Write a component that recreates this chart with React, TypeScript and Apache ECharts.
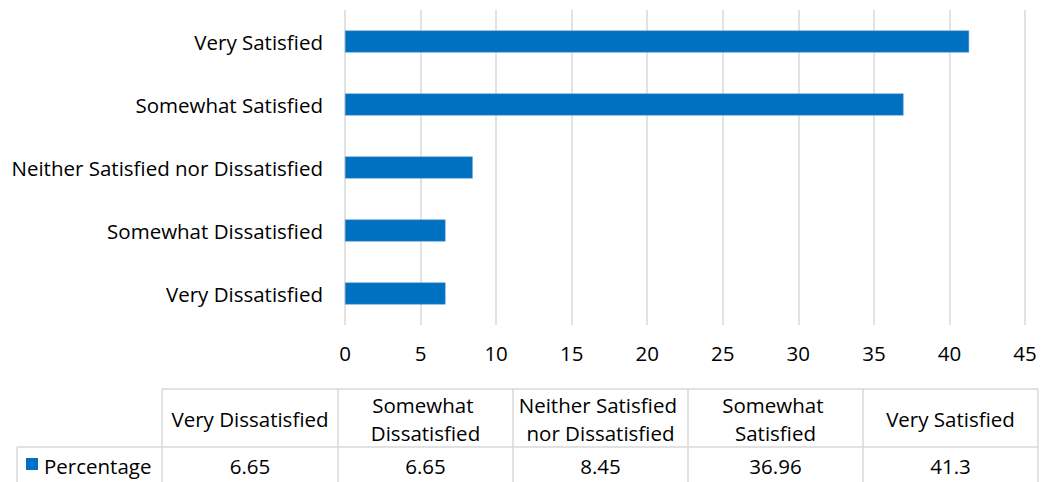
import React, { useEffect, useRef } from "react";
import * as echarts from "echarts";

// Survey responses, listed from the bottom bar upward
const categories = [
  "Very Dissatisfied",
  "Somewhat Dissatisfied",
  "Neither Satisfied nor Dissatisfied",
  "Somewhat Satisfied",
  "Very Satisfied",
];
const percentage = [6.65, 6.65, 8.45, 36.96, 41.3];
const seriesName = "Percentage";
const xTicks = { min: 0, max: 45, interval: 5 };

const BLUE = "#0070C0";
const GRID = "#D9D9D9";
const FONT = "'Open Sans', 'Noto Sans', sans-serif";
const FS = 20.5;

function buildTable(): any[] {
  const colX = [162, 338, 513, 688, 863, 1038];
  const top = 389;
  const mid = 447;
  const bottom = 482;
  const legendLeft = 17;
  const line = (x1: number, y1: number, x2: number, y2: number) => ({
    type: "line",
    shape: { x1, y1, x2, y2 },
    style: { stroke: GRID, lineWidth: 1.5 },
    silent: true,
  });
  const els: any[] = [];
  els.push(line(colX[0], top, colX[colX.length - 1], top));
  els.push(line(legendLeft, mid, colX[colX.length - 1], mid));
  els.push(line(legendLeft, mid, legendLeft, bottom));
  colX.forEach((x) => els.push(line(x, top, x, bottom)));
  categories.forEach((c, i) => {
    const cx = (colX[i] + colX[i + 1]) / 2;
    els.push({
      type: "text",
      silent: true,
      style: {
        text: c,
        x: cx,
        y: (top + mid) / 2 + 1,
        width: 170,
        overflow: "break",
        align: "center",
        verticalAlign: "middle",
        lineHeight: 28,
        fontFamily: FONT,
        fontSize: FS,
        fill: "#000",
      },
    });
    els.push({
      type: "text",
      silent: true,
      style: {
        text: String(percentage[i]),
        x: cx,
        y: (mid + bottom) / 2 + 1,
        align: "center",
        verticalAlign: "middle",
        fontFamily: FONT,
        fontSize: FS,
        fill: "#000",
      },
    });
  });
  // legend key for the data row
  els.push({
    type: "rect",
    silent: true,
    shape: { x: 26, y: 458, width: 12, height: 12 },
    style: { fill: BLUE },
  });
  els.push({
    type: "text",
    silent: true,
    style: {
      text: seriesName,
      x: 44,
      y: (mid + bottom) / 2 + 1,
      align: "left",
      verticalAlign: "middle",
      fontFamily: FONT,
      fontSize: FS,
      fill: "#000",
    },
  });
  return els;
}

export default function App() {
  const ref = useRef<HTMLDivElement>(null);
  useEffect(() => {
    if (!ref.current) return;
    const chart = echarts.init(ref.current, null, { renderer: "svg" });
    chart.setOption({
      animation: false,
      backgroundColor: "#fff",
      grid: { left: 345, right: 17, top: 10, bottom: 157 },
      xAxis: {
        type: "value",
        min: xTicks.min,
        max: xTicks.max,
        interval: xTicks.interval,
        axisLine: { show: false },
        axisTick: { show: false },
        axisLabel: { color: "#000", fontFamily: FONT, fontSize: FS, margin: 17 },
        splitLine: { lineStyle: { color: GRID, width: 1.5 } },
      },
      yAxis: {
        type: "category",
        data: categories,
        axisLine: { show: false },
        axisTick: { show: false },
        axisLabel: { color: "#000", fontFamily: FONT, fontSize: FS, margin: 22 },
      },
      series: [
        {
          name: seriesName,
          type: "bar",
          data: percentage,
          barWidth: 22,
          itemStyle: { color: BLUE, borderColor: "#5B9BD5", borderWidth: 0.5 },
        },
      ],
      graphic: buildTable(),
    });
    return () => chart.dispose();
  }, []);
  return (
    <div
      ref={ref}
      style={{ position: "fixed", left: 0, top: 0, width: 1042, height: 482 }}
    />
  );
}
